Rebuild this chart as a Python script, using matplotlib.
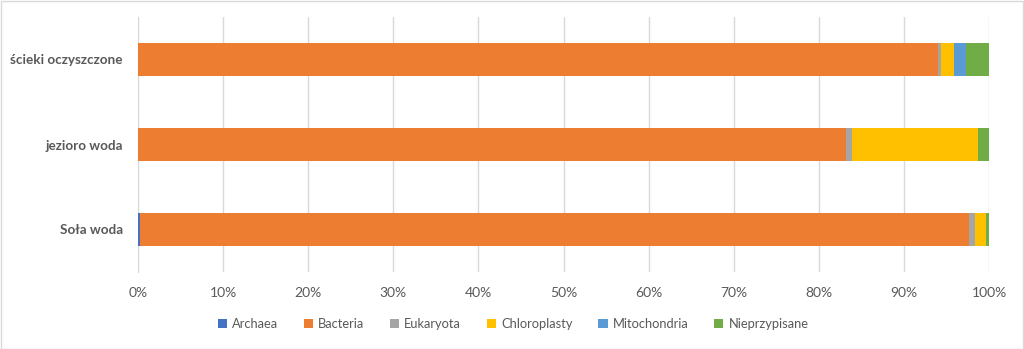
import matplotlib
matplotlib.use("Agg")
import matplotlib.pyplot as plt
from matplotlib.ticker import FixedLocator, PercentFormatter
from matplotlib.patches import Rectangle
import numpy as np

plt.rcParams['font.family'] = ['Lato', 'DejaVu Sans']

categories = ["Soła woda", "jezioro woda", "ścieki oczyszczone"]
series_names = ["Archaea", "Bacteria", "Eukaryota", "Chloroplasty", "Mitochondria", "Nieprzypisane"]
colors = ["#4472C4", "#ED7D31", "#A5A5A5", "#FFC000", "#5B9BD5", "#70AD47"]

archaea = [0.2, 0.05, 0.05]
bacteria = [97.5, 83.1, 93.9]
eukaryota = [0.7, 0.7, 0.42]
chloroplasty = [1.25, 14.8, 1.46]
mitochondria = [0.05, 0.05, 1.48]
nieprzypisane = [0.3, 1.3, 2.7]

values = [archaea, bacteria, eukaryota, chloroplasty, mitochondria, nieprzypisane]

fig = plt.figure(figsize=(10.24, 3.49), dpi=100)
ax = fig.add_axes([138 / 1024, 1 - 272 / 349, 851 / 1024, 255 / 349])

y = np.arange(len(categories))
left = np.zeros(len(categories))
handles = []
for name, vals, col in zip(series_names, values, colors):
    v = np.array(vals, dtype=float)
    h = ax.barh(y, v, left=left, height=0.39, color=col, label=name, zorder=3)
    handles.append(h)
    left += v

ax.set_xlim(0, 100)
ax.set_ylim(-0.5, 2.5)
ax.xaxis.set_major_locator(FixedLocator(np.arange(0, 101, 10)))
ax.xaxis.set_major_formatter(PercentFormatter(decimals=0))
ax.grid(axis="x", color="#D9D9D9", linewidth=1, zorder=0)
ax.set_yticks(y)
ax.set_yticklabels(categories, fontweight="bold", fontsize=9.7, color="#595959")
ax.tick_params(axis="y", length=0, pad=11)
ax.tick_params(axis="x", length=0, labelsize=10, labelcolor="#595959", pad=11)
for s in ["top", "right", "bottom"]:
    ax.spines[s].set_visible(False)
ax.spines["left"].set_color("#D9D9D9")

leg = fig.legend(handles=handles, labels=series_names, loc="center", bbox_to_anchor=(0.501, 1 - 324 / 349),
                 ncol=6, frameon=False, fontsize=9.3, handlelength=0.7, handleheight=0.7,
                 handletextpad=0.4, columnspacing=2.0, labelcolor="#595959")

fig.patches.append(Rectangle((0.5 / 1024, 0.5 / 349), 1 - 1.5 / 1024, 1 - 1.5 / 349, transform=fig.transFigure,
                             fill=False, edgecolor="#D9D9D9", linewidth=1))

fig.savefig("out.png", dpi=100, facecolor="white")
